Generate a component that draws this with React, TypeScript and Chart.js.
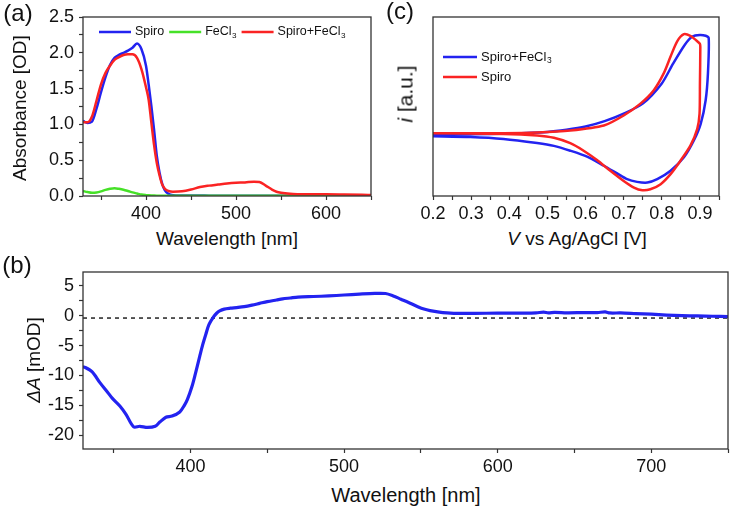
import React, { useEffect, useRef } from "react";
import { Chart, registerables } from "chart.js";

Chart.register(...registerables);

const FONT = "'Liberation Sans', Arial, Helvetica, sans-serif";
Chart.defaults.font.family = FONT;

// ---------- (a) UV-vis absorbance ----------
const absWavelength = [330, 335, 340, 345, 350, 355, 360, 365, 370, 375, 380, 385, 390, 395, 400, 403, 406, 409, 412, 415, 418, 421, 425, 430, 440, 450, 460, 470, 480, 490, 500, 510, 520, 526, 533, 540, 545, 550, 560, 570, 580, 600, 620, 640, 650];
const absSpiro = [1.05, 1.02, 1.04, 1.22, 1.45, 1.66, 1.83, 1.93, 1.97, 2.0, 2.03, 2.07, 2.13, 2.05, 1.82, 1.55, 1.25, 0.92, 0.56, 0.33, 0.17, 0.08, 0.03, 0.012, 0.008, 0.006, 0.006, 0.005, 0.005, 0.005, 0.005, 0.005, 0.005, 0.005, 0.005, 0.005, 0.005, 0.005, 0.005, 0.005, 0.005, 0.005, 0.005, 0.005, 0.005];
const absFeCl3 = [0.07, 0.055, 0.045, 0.05, 0.065, 0.085, 0.1, 0.108, 0.1, 0.088, 0.07, 0.05, 0.035, 0.02, 0.012, 0.009, 0.007, 0.006, 0.005, 0.004, 0.004, 0.003, 0.003, 0.003, 0.003, 0.003, 0.003, 0.003, 0.003, 0.003, 0.003, 0.003, 0.003, 0.003, 0.003, 0.003, 0.003, 0.003, 0.003, 0.003, 0.003, 0.003, 0.003, 0.003, 0.003];
const absSpiroFeCl3 = [1.03, 1.03, 1.11, 1.33, 1.56, 1.72, 1.82, 1.9, 1.94, 1.97, 1.98, 1.98, 1.93, 1.77, 1.52, 1.34, 1.02, 0.71, 0.46, 0.29, 0.16, 0.1, 0.07, 0.06, 0.065, 0.09, 0.125, 0.145, 0.16, 0.175, 0.185, 0.19, 0.2, 0.195, 0.145, 0.09, 0.06, 0.045, 0.03, 0.025, 0.023, 0.023, 0.02, 0.016, 0.013];

// ---------- (c) cyclic voltammetry ----------
const cvSpiroFeCl3V = [0.2, 0.3, 0.4, 0.5, 0.55, 0.6, 0.65, 0.7, 0.75, 0.8, 0.83, 0.86, 0.88, 0.9, 0.915, 0.923, 0.921, 0.915, 0.902, 0.884, 0.858, 0.823, 0.788, 0.762, 0.735, 0.709, 0.683, 0.648, 0.604, 0.56, 0.517, 0.473, 0.385, 0.298, 0.2];
const cvSpiroFeCl3I = [3.43, 3.45, 3.49, 3.58, 3.7, 3.88, 4.18, 4.6, 5.16, 6.29, 7.41, 8.44, 8.91, 9.0, 8.95, 8.82, 6.85, 5.35, 4.03, 3.1, 2.16, 1.41, 0.94, 0.75, 0.79, 0.94, 1.26, 1.69, 2.2, 2.53, 2.8, 2.96, 3.19, 3.3, 3.34];
const cvSpiroV = [0.2, 0.3, 0.385, 0.473, 0.56, 0.648, 0.7, 0.744, 0.779, 0.805, 0.823, 0.84, 0.858, 0.875, 0.889, 0.9, 0.901, 0.9, 0.899, 0.893, 0.875, 0.849, 0.823, 0.797, 0.77, 0.749, 0.727, 0.7, 0.665, 0.63, 0.595, 0.56, 0.517, 0.473, 0.385, 0.2];
const cvSpiroI = [3.51, 3.51, 3.51, 3.55, 3.66, 3.94, 4.5, 5.16, 5.91, 6.85, 7.79, 8.63, 9.04, 8.95, 8.72, 8.5, 8.3, 6.29, 4.6, 3.75, 2.81, 1.97, 1.22, 0.66, 0.375, 0.32, 0.47, 0.84, 1.41, 2.01, 2.53, 2.95, 3.25, 3.38, 3.47, 3.51];

// ---------- (b) difference spectrum ----------
const diffWavelength = [330, 331, 336, 341, 346, 349, 354, 358, 363, 367, 372, 377, 380, 384, 388, 393, 396, 398, 401, 403, 406, 408, 410, 412, 415, 417, 419, 422, 426, 430, 435, 440, 445, 450, 456, 460, 465, 470, 480, 490, 500, 510, 520, 527, 532, 537, 542, 548, 552, 556, 562, 567, 575, 585, 600, 615, 625, 630, 633, 637, 645, 655, 665, 670, 673, 680, 690, 700, 710, 720, 730, 740, 750];
const diffMOD = [-8.6, -8.6, -9.4, -11.2, -12.8, -13.8, -15.1, -16.5, -18.6, -18.5, -18.7, -18.5, -17.8, -17.0, -16.8, -16.1, -15.0, -14.0, -11.8, -9.9, -6.8, -4.8, -3.1, -1.5, -0.2, 0.4, 0.8, 1.1, 1.25, 1.35, 1.5, 1.75, 2.05, 2.35, 2.62, 2.8, 2.95, 3.1, 3.2, 3.3, 3.45, 3.6, 3.72, 3.7, 3.3, 2.75, 2.2, 1.5, 1.1, 0.85, 0.6, 0.48, 0.38, 0.38, 0.42, 0.42, 0.45, 0.6, 0.45, 0.55, 0.48, 0.5, 0.52, 0.62, 0.45, 0.45, 0.35, 0.25, 0.1, 0.0, -0.05, -0.1, -0.15];
const diffBaselineX = [330, 750];
const diffBaselineY = [-0.4, -0.4];

const BLUE = "rgb(35,35,240)";
const RED = "rgb(250,35,35)";
const GREEN = "rgb(70,225,40)";
const AXIS = "#333";
const TEXT = "#111";

const pts = (xs: number[], ys: number[]) => xs.map((x, i) => ({ x, y: ys[i] }));
const isMult = (v: number, m: number) => {
  const r = v / m;
  return Math.abs(r - Math.round(r)) < 1e-6;
};

const framePlugin = {
  id: "frameBox",
  afterDatasetsDraw(chart: any) {
    const { ctx, chartArea: a } = chart;
    ctx.save();
    ctx.strokeStyle = AXIS;
    ctx.lineWidth = 1.3;
    ctx.strokeRect(a.left, a.top, a.right - a.left, a.bottom - a.top);
    ctx.restore();
  },
};

const lineLegendPlugin = {
  id: "lineLegend",
  afterDraw(chart: any, _args: any, opts: any) {
    if (!opts || !opts.items) return;
    const ctx = chart.ctx;
    ctx.save();
    ctx.textBaseline = "middle";
    let x = opts.x;
    let y = opts.y;
    for (const it of opts.items) {
      ctx.strokeStyle = it.color;
      ctx.lineWidth = opts.lineWidth;
      ctx.beginPath();
      ctx.moveTo(x, y);
      ctx.lineTo(x + opts.lineLen, y);
      ctx.stroke();
      let tx = x + opts.lineLen + opts.textGap;
      ctx.fillStyle = TEXT;
      ctx.font = `${opts.fontSize}px ${FONT}`;
      ctx.fillText(it.text, tx, y);
      tx += ctx.measureText(it.text).width;
      if (it.sub) {
        ctx.font = `${opts.fontSize * 0.65}px ${FONT}`;
        ctx.fillText(it.sub, tx + 0.5, y + opts.fontSize * 0.3);
        tx += ctx.measureText(it.sub).width + 0.5;
      }
      if (opts.direction === "row") x = tx + opts.itemGap;
      else y += opts.rowGap;
    }
    ctx.restore();
  },
};

function linAxis(opts: {
  min: number; max: number; step: number; major: number; fmt: (v: number) => string;
  fit: number; horizontal: boolean; show?: boolean; padding?: number;
}) {
  return {
    type: "linear",
    min: opts.min,
    max: opts.max,
    display: opts.show !== false,
    afterFit: (s: any) => {
      if (opts.horizontal) s.height = opts.fit;
      else s.width = opts.fit;
    },
    border: { display: false },
    grid: {
      display: true,
      drawOnChartArea: false,
      drawTicks: true,
      tickLength: 4,
      tickWidth: 1.2,
      tickColor: AXIS,
      color: AXIS,
    },
    ticks: {
      stepSize: opts.step,
      includeBounds: false,
      autoSkip: false,
      maxRotation: 0,
      minRotation: 0,
      padding: opts.padding ?? 3,
      color: TEXT,
      font: { size: 18, family: FONT },
      callback: (v: any) => (isMult(Number(v), opts.major) ? opts.fmt(Number(v)) : ""),
    },
  };
}

function makeA() {
  return {
    type: "line",
    data: {
      datasets: [
        { label: "Spiro", data: pts(absWavelength, absSpiro), borderColor: BLUE, borderWidth: 2.5, pointRadius: 0, cubicInterpolationMode: "monotone", order: 2 },
        { label: "FeCl3", data: pts(absWavelength, absFeCl3), borderColor: GREEN, borderWidth: 2.5, pointRadius: 0, cubicInterpolationMode: "monotone", order: 1 },
        { label: "Spiro+FeCl3", data: pts(absWavelength, absSpiroFeCl3), borderColor: RED, borderWidth: 2.5, pointRadius: 0, cubicInterpolationMode: "monotone", order: 0 },
      ],
    },
    options: {
      responsive: false,
      animation: false,
      events: [],
      layout: { padding: { top: 17, right: 9, left: 0, bottom: 0 } },
      scales: {
        x: linAxis({ min: 330, max: 650, step: 50, major: 100, fmt: (v) => String(v), fit: 29, horizontal: true }),
        y: linAxis({ min: 0, max: 2.5, step: 0.25, major: 0.5, fmt: (v) => v.toFixed(1), fit: 83, horizontal: false, padding: 5 }),
      },
      plugins: {
        legend: { display: false },
        tooltip: { enabled: false },
        lineLegend: {
          direction: "row", x: 99, y: 32, lineLen: 32, textGap: 4, itemGap: 5, lineWidth: 2.5, fontSize: 12.5,
          items: [
            { text: "Spiro", color: BLUE },
            { text: "FeCl", sub: "3", color: GREEN },
            { text: "Spiro+FeCl", sub: "3", color: RED },
          ],
        },
      },
    },
    plugins: [framePlugin, lineLegendPlugin],
  };
}

function makeC() {
  return {
    type: "line",
    data: {
      datasets: [
        { label: "Spiro+FeCl3", data: pts(cvSpiroFeCl3V, cvSpiroFeCl3I), borderColor: BLUE, borderWidth: 2.5, pointRadius: 0, tension: 0.25, order: 1 },
        { label: "Spiro", data: pts(cvSpiroV, cvSpiroI), borderColor: RED, borderWidth: 2.5, pointRadius: 0, tension: 0.25, order: 0 },
      ],
    },
    options: {
      responsive: false,
      animation: false,
      events: [],
      layout: { padding: { top: 17, right: 12, left: 53, bottom: 0 } },
      scales: {
        x: linAxis({ min: 0.2, max: 0.95, step: 0.05, major: 0.1, fmt: (v) => v.toFixed(1), fit: 29, horizontal: true }),
        y: { type: "linear", min: 0, max: 10, display: false },
      },
      plugins: {
        legend: { display: false },
        tooltip: { enabled: false },
        lineLegend: {
          direction: "column", x: 63, y: 57, rowGap: 20, lineLen: 34, textGap: 4, lineWidth: 2.5, fontSize: 13,
          items: [
            { text: "Spiro+FeCl", sub: "3", color: BLUE },
            { text: "Spiro", color: RED },
          ],
        },
      },
    },
    plugins: [framePlugin, lineLegendPlugin],
  };
}

function makeB() {
  return {
    type: "line",
    data: {
      datasets: [
        { label: "ΔA", data: pts(diffWavelength, diffMOD), borderColor: BLUE, borderWidth: 3.2, pointRadius: 0, tension: 0.3, order: 0 },
        { label: "zero", data: pts(diffBaselineX, diffBaselineY), borderColor: "#222", borderWidth: 1.5, borderDash: [4, 4], pointRadius: 0, order: 1 },
      ],
    },
    options: {
      responsive: false,
      animation: false,
      events: [],
      layout: { padding: { top: 22, right: 3, left: 0, bottom: 0 } },
      scales: {
        x: linAxis({ min: 330, max: 750, step: 50, major: 100, fmt: (v) => String(v), fit: 26, horizontal: true }),
        y: linAxis({ min: -22.3, max: 7.3, step: 2.5, major: 5, fmt: (v) => String(Math.round(v)), fit: 83, horizontal: false, padding: 5 }),
      },
      plugins: {
        legend: { display: false },
        tooltip: { enabled: false },
      },
    },
    plugins: [framePlugin],
  };
}

function ChartCanvas({ left, top, width, height, make }: { left: number; top: number; width: number; height: number; make: () => any }) {
  const ref = useRef<HTMLCanvasElement | null>(null);
  useEffect(() => {
    if (!ref.current) return;
    const chart = new Chart(ref.current, make());
    return () => chart.destroy();
  }, []);
  return (
    <canvas
      ref={ref}
      width={width}
      height={height}
      style={{ position: "absolute", left, top, width, height, display: "block" }}
    />
  );
}

function Txt({ x, y, size = 19, rot = false, children }: { x: number; y: number; size?: number; rot?: boolean; children: any }) {
  return (
    <div
      style={{
        position: "absolute",
        left: x,
        top: y,
        transform: `translate(-50%, -50%)${rot ? " rotate(-90deg)" : ""}`,
        whiteSpace: "nowrap",
        fontSize: size,
        lineHeight: 1,
        color: TEXT,
      }}
    >
      {children}
    </div>
  );
}

export default function App() {
  return (
    <div style={{ position: "absolute", left: 0, top: 0, width: 731, height: 508, background: "#fff", fontFamily: FONT, overflow: "hidden" }}>
      <ChartCanvas left={0} top={0} width={380} height={225} make={makeA} />
      <ChartCanvas left={380} top={0} width={351} height={225} make={makeC} />
      <ChartCanvas left={0} top={250} width={731} height={225} make={makeB} />

      <Txt x={18} y={13} size={24}>(a)</Txt>
      <Txt x={400} y={11} size={24}>(c)</Txt>
      <Txt x={17} y={265} size={24}>(b)</Txt>

      <Txt x={19} y={108} rot>Absorbance [OD]</Txt>
      <Txt x={227} y={238}>Wavelength [nm]</Txt>

      <Txt x={405} y={94} size={21} rot><i>i</i> [a.u.]</Txt>
      <Txt x={577} y={238}><i>V</i> vs Ag/AgCl [V]</Txt>

      <Txt x={33} y={360} rot><i>ΔA</i> [mOD]</Txt>
      <Txt x={406} y={495} size={20}>Wavelength [nm]</Txt>
    </div>
  );
}
